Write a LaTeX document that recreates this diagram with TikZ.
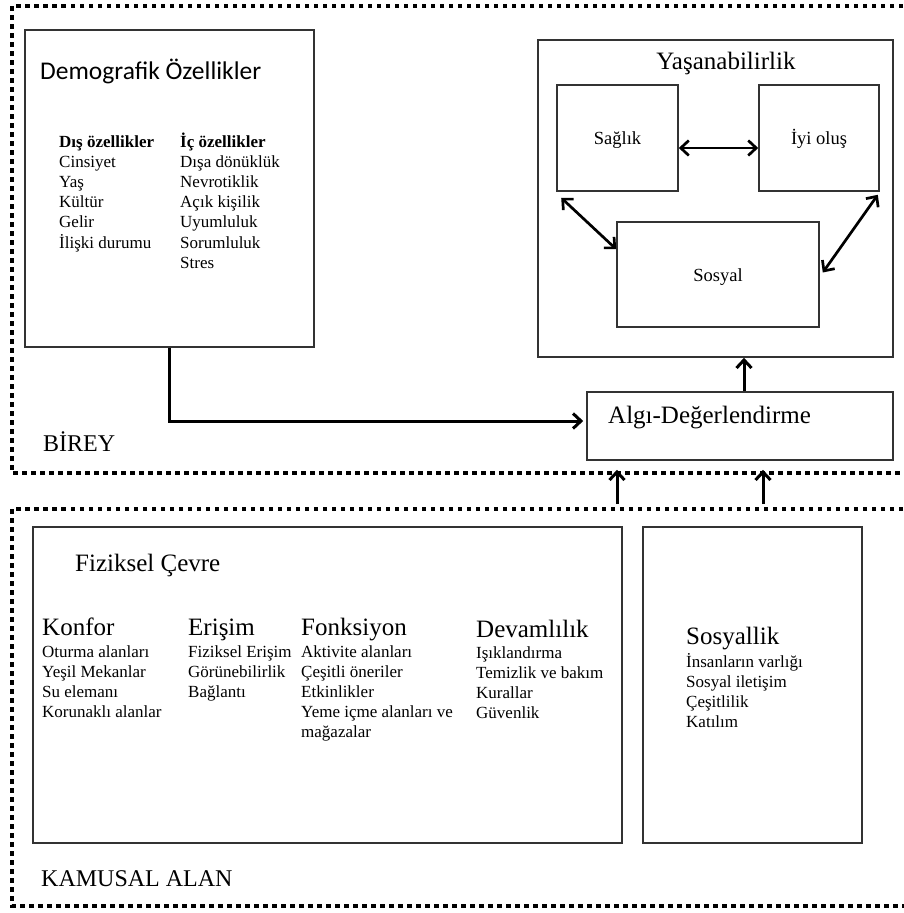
\documentclass[tikz,border=0pt]{standalone}
\usepackage{fontspec}
\setmainfont{Liberation Serif}
\newfontfamily\calfont{Carlito}
\usetikzlibrary{arrows.meta,calc}
\begin{document}
\begin{tikzpicture}[x=1pt,y=-1pt,
  frame/.style={line width=4pt, dash pattern=on 4.5pt off 4.5pt},
  box/.style={draw=black!80, line width=1.6pt, inner sep=0pt},
  arr/.style={line width=3pt, -{Straight Barb[length=8pt,width=15pt]}},
  darr/.style={line width=2.7pt, {Straight Barb[length=8pt,width=15pt]}-{Straight Barb[length=8pt,width=15pt]}},
  lbl/.style={anchor=base west, inner sep=0pt},
  item/.style={lbl, font=\fontsize{17}{20}\selectfont},
  head/.style={lbl, font=\fontsize{25}{28}\selectfont},
  inbox/.style={box, font=\fontsize{18.5}{20}\selectfont, text height=13pt, text depth=0pt},
]
\clip (0,0) rectangle (904,913);
\useasboundingbox (0,0) rectangle (904,913);

% dotted frames of the two areas
\draw[frame] (912,6) -- (12,6) -- (12,473) -- (912,473);
\draw[frame] (912,509) -- (12,509) -- (12,906) -- (912,906);

% ---------- BİREY ----------
\node[box, minimum width=289pt, minimum height=317pt] (demo) at (169.5,188.5) {};
\node[lbl, font=\calfont\fontsize{25.5}{28}\selectfont] (demotitle) at (40,79) {Demografik Özellikler};
\node[item, font=\bfseries\fontsize{17}{20}\selectfont] (dishead) at (59,147) {Dış özellikler};
\foreach \t [count=\i from 1] in {Cinsiyet,Yaş,Kültür,Gelir,İlişki durumu}
  \node[item] (dis\i) at (59,{147+20.2*\i}) {\t};
\node[item, font=\bfseries\fontsize{17}{20}\selectfont] (ichead) at (180,147) {İç özellikler};
\foreach \t [count=\i from 1] in {Dışa dönüklük,Nevrotiklik,Açık kişilik,Uyumluluk,Sorumluluk,Stres}
  \node[item] (ic\i) at (180,{147+20.2*\i}) {\t};

\node[box, minimum width=355pt, minimum height=317pt] (yas) at (715.5,198.5) {};
\node[anchor=base, inner sep=0pt, font=\fontsize{25}{27}\selectfont] (yastitle) at (726,69) {Yaşanabilirlik};
\node[inbox, minimum width=121pt, minimum height=106pt] (saglik) at (617.5,138) {Sağlık};
\node[inbox, minimum width=120pt, minimum height=106pt] (iyi) at (819,138) {İyi oluş};
\node[inbox, minimum width=202pt, minimum height=105pt] (sosyal) at (718,274.5) {Sosyal};

\draw[darr] ([yshift=-10pt]saglik.east) -- ([yshift=-10pt]iyi.west);
\draw[darr] ($(saglik.south west)+(5,6)$) -- ($(sosyal.north west)+(0,28)$);
\draw[darr] ($(iyi.south east)+(-2,3)$) -- ($(sosyal.east)+(3,-2)$);

\node[box, minimum width=306pt, minimum height=68pt] (algi) at (740,426) {};
\node[lbl, font=\fontsize{25}{28}\selectfont] (algitext) at (608,423) {Algı-Değerlendirme};

\draw[arr] ([xshift=4pt]algi.north) -- ([xshift=4pt]algi.north |- yas.south);
\draw[arr, shorten >=3pt] (demo.south) |- ([yshift=5pt]algi.west);

\node[lbl, font=\fontsize{24}{26}\selectfont] (birey) at (43,451) {BİREY};

% ---------- KAMUSAL ALAN ----------
\coordinate (in1) at (617,504);
\coordinate (in2) at (763,504);
\draw[arr] (in1) -- ([yshift=-9pt]in1 |- algi.south);
\draw[arr] (in2) -- ([yshift=-9pt]in2 |- algi.south);

\node[box, minimum width=589pt, minimum height=316pt] (fiz) at (327.5,685) {};
\node[lbl, font=\fontsize{25}{28}\selectfont] (fiztitle) at (75,571) {Fiziksel Çevre};

\node[head] (konfor) at (42,635) {Konfor};
\foreach \t [count=\i from 0] in {Oturma alanları,Yeşil Mekanlar,Su elemanı,Korunaklı alanlar}
  \node[item] (konf\i) at (42,{657+20*\i}) {\t};
\node[head] (erisim) at (188,635) {Erişim};
\foreach \t [count=\i from 0] in {Fiziksel Erişim,Görünebilirlik,Bağlantı}
  \node[item] (eris\i) at (188,{657+20*\i}) {\t};
\node[head] (fonk) at (301,635) {Fonksiyon};
\foreach \t [count=\i from 0] in {Aktivite alanları,Çeşitli öneriler,Etkinlikler,Yeme içme alanları ve,mağazalar}
  \node[item] (fonk\i) at (301,{657+20*\i}) {\t};
\node[head] (devam) at (476,637) {Devamlılık};
\foreach \t [count=\i from 0] in {Işıklandırma,Temizlik ve bakım,Kurallar,Güvenlik}
  \node[item] (devam\i) at (476,{658+20*\i}) {\t};

\node[box, minimum width=219pt, minimum height=316pt] (sos) at (752.5,685) {};
\node[head] (sostitle) at (686,644) {Sosyallik};
\foreach \t [count=\i from 0] in {İnsanların varlığı,Sosyal iletişim,Çeşitlilik,Katılım}
  \node[item] (sos\i) at (686,{667+20*\i}) {\t};

\node[lbl, font=\fontsize{24}{26}\selectfont] (kamusal) at (41,886) {KAMUSAL ALAN};
\end{tikzpicture}
\end{document}
